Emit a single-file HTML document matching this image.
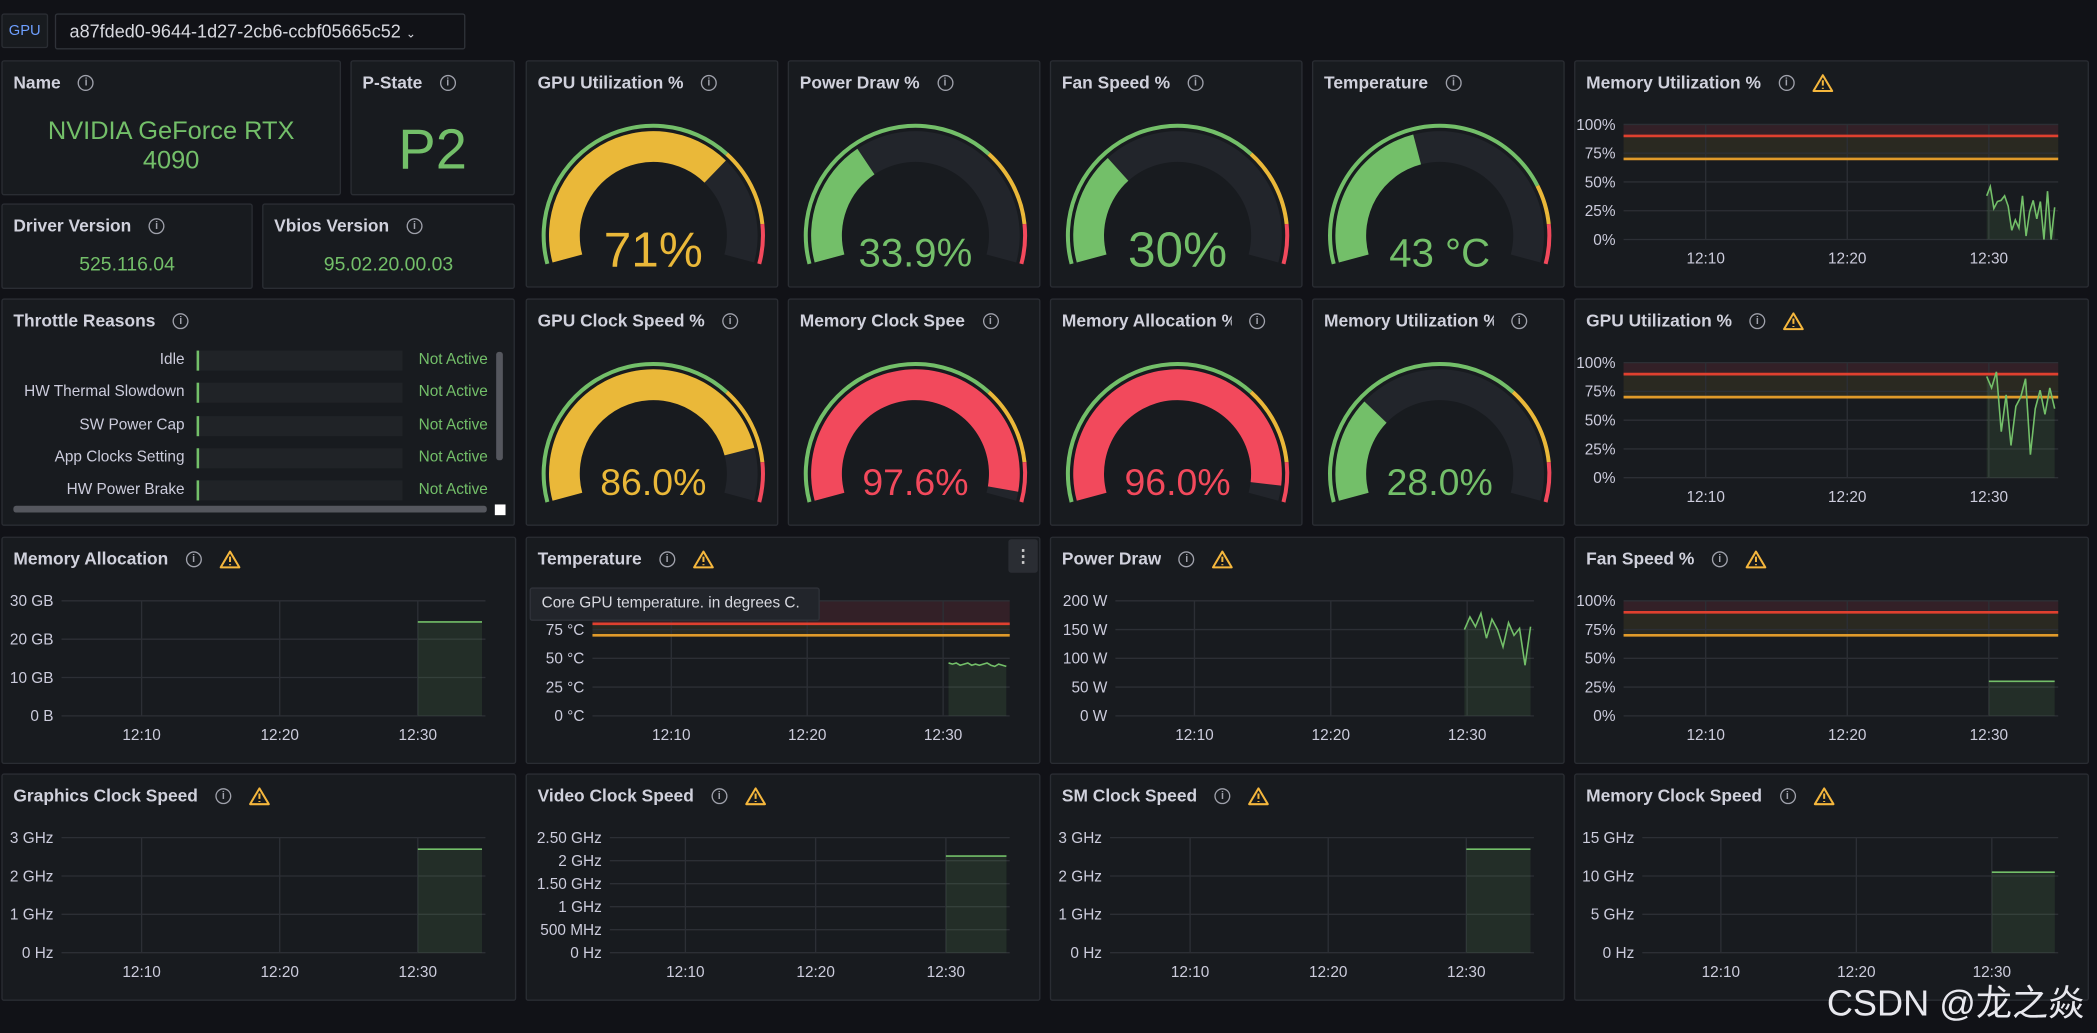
<!DOCTYPE html>
<html><head><meta charset="utf-8">
<style>
*{box-sizing:border-box;margin:0;padding:0}
html,body{width:2097px;height:1033px;background:#111217;overflow:hidden;font-family:"Liberation Sans","Noto Sans CJK SC",sans-serif;color:#ccccdc}
#root{position:absolute;left:0;top:0;width:1568px;height:772px;transform:scale(1.33737,1.33808);transform-origin:0 0}
.panel{position:absolute;background:#181b1f;border:1px solid #2a2d33;border-radius:2px;overflow:hidden}
.title{position:absolute;left:8px;top:8px;font-size:13px;font-weight:bold;color:#d0d1dc;white-space:nowrap;display:flex;align-items:center;gap:13px}
.title span:first-child{flex-shrink:0}
.info{display:inline-block;width:12px;height:12px;border:1.2px solid #9fa1ab;border-radius:50%;font-size:8px;line-height:10px;text-align:center;color:#9fa1ab;font-weight:bold}
.stat{position:absolute;left:0;right:0;text-align:center;color:#73bf69}
svg text{font-family:"Liberation Sans",sans-serif}
.thr-row{position:absolute;left:0;width:380px;height:16px;font-size:11.5px}
</style></head><body>
<div id="root">
  <div style="position:absolute;left:1px;top:10px;width:35px;height:26px;background:#181b1f;border:1px solid #2a2d33;border-radius:2px;color:#6e9fff;font-size:11px;line-height:24px;text-align:center">GPU</div>
  <div style="position:absolute;left:41px;top:10px;width:307px;height:27px;background:#111217;border:1px solid #2f3239;border-radius:2px;font-size:13.5px;line-height:25px;padding-left:10px;color:#d8d9e0">a87fded0-9644-1d27-2cb6-ccbf05665c52 <span style="font-size:9px">&#8964;</span></div>

  <div class="panel" style="left:1px;top:45px;width:254px;height:101px">
    <div class="title">Name <span class="info">i</span></div>
    <div class="stat" style="top:42px;font-size:19px;line-height:22px">NVIDIA GeForce RTX<br>4090</div>
  </div>
  <div class="panel" style="left:262px;top:45px;width:123px;height:101px">
    <div class="title">P-State <span class="info">i</span></div>
    <div class="stat" style="top:42px;font-size:42px;line-height:48px">P2</div>
  </div>
  <div class="panel" style="left:1px;top:152px;width:188px;height:64px">
    <div class="title">Driver Version <span class="info">i</span></div>
    <div class="stat" style="top:37px;font-size:14.5px">525.116.04</div>
  </div>
  <div class="panel" style="left:196px;top:152px;width:189px;height:64px">
    <div class="title">Vbios Version <span class="info">i</span></div>
    <div class="stat" style="top:37px;font-size:14.5px">95.02.20.00.03</div>
  </div>

  <div class="panel" style="left:1px;top:223px;width:384px;height:170px">
    <div class="title">Throttle Reasons <span class="info">i</span></div>
    <div id="thr"></div>
    <div style="position:absolute;left:369px;top:39px;width:5px;height:81px;background:#55575e;border-radius:2px"></div>
    <div style="position:absolute;left:8px;top:154px;width:354px;height:5px;background:#55575e;border-radius:2px"></div>
    <div style="position:absolute;left:368px;top:153px;width:8px;height:8px;background:#fff"></div>
  </div>

  <div id="panels"></div>

  <div style="position:absolute;left:396px;top:439px;width:217px;height:25px;background:#22252b;border:1px solid #2f3239;border-radius:2px;font-size:11.5px;line-height:23px;padding-left:8px;color:#d8d9e0">Core GPU temperature. in degrees C.</div>
  <div style="position:absolute;left:754px;top:403px;width:22px;height:25px;background:#2a2d33;border-radius:2px;color:#ccc;font-size:13px;line-height:25px;text-align:center;font-weight:bold">&#8942;</div>
  <div style="position:absolute;left:1366px;top:728px;font-size:27px;color:#e8e8ee;white-space:nowrap">CSDN @龙之焱</div>
</div>
<script>
// ---------- data ----------
const throttleLabels = ["Idle","HW Thermal Slowdown","SW Power Cap","App Clocks Setting","HW Power Brake"];
const throttleStates = ["Not Active","Not Active","Not Active","Not Active","Not Active"];

const gaugeTitles = ["GPU Utilization %","Power Draw %","Fan Speed %","Temperature","GPU Clock Speed %","Memory Clock Spee","Memory Allocation %","Memory Utilization %"];
const gaugeValues = [71, 33.9, 30, 43, 86.0, 97.6, 96.0, 28.0];
const gaugeTexts = ["71%","33.9%","30%","43 °C","86.0%","97.6%","96.0%","28.0%"];

const timeTickLabels = ["12:10","12:20","12:30"];
const timeTickValues = [10, 20, 30];
const timeStart = 4.2, timeEnd = 34.9;

const memUtilValues = [38,46,27,33,34,38,29,8,17,10,38,3,24,34,18,33,0,42,0,28];
const gpuUtilValues = [88,78,92,40,72,28,62,70,86,20,60,76,55,78,60];
const memAllocValues = [24.5,24.5,24.5,24.5,24.5,24.5];
const tempValues = [46,45,46,44,45,46,44,45,44,45,46,44,43,45,44,43];
const powerValues = [150,172,155,178,135,168,150,120,162,140,152,88,155];
const fanValues = [30,30,30,30,30,30];
const gfxClockValues = [2.7,2.7,2.7,2.7,2.7,2.7];
const videoClockValues = [2.1,2.1,2.1,2.1,2.1,2.1];
const smClockValues = [2.7,2.7,2.7,2.7,2.7,2.7];
const memClockValues = [10.5,10.5,10.5,10.5,10.5,10.5];

const pctTicks = [0,25,50,75,100];
const pctLabels = ["0%","25%","50%","75%","100%"];
const gbTicks = [0,10,20,30];
const gbLabels = ["0 B","10 GB","20 GB","30 GB"];
const tempTicks = [0,25,50,75,100];
const tempLabels = ["0 °C","25 °C","50 °C","75 °C","100 °C"];
const wTicks = [0,50,100,150,200];
const wLabels = ["0 W","50 W","100 W","150 W","200 W"];
const ghz3Ticks = [0,1,2,3];
const ghz3Labels = ["0 Hz","1 GHz","2 GHz","3 GHz"];
const vidTicks = [0,0.5,1,1.5,2,2.5];
const vidLabels = ["0 Hz","500 MHz","1 GHz","1.50 GHz","2 GHz","2.50 GHz"];
const ghz15Ticks = [0,5,10,15];
const ghz15Labels = ["0 Hz","5 GHz","10 GHz","15 GHz"];

// ---------- helpers ----------
const NS = "http://www.w3.org/2000/svg";
const GREEN="#73bf69", YELLOW="#eab839", RED="#f2495c";
const root = document.getElementById('panels');
function svgEl(t, a){const e=document.createElementNS(NS,t);for(const k in a)e.setAttribute(k,a[k]);return e;}
function mkPanel(name,x,y,w,h,title,warn){
  const p=document.createElement('div');
  p.className='panel';
  p.style.cssText=`left:${x}px;top:${y}px;width:${w}px;height:${h}px`;
  
  
  const t=document.createElement('div');
  t.className='title';
  
  
  t.innerHTML=`<span style="max-width:${w-62}px;overflow:hidden;display:inline-block">${title}</span>`;
  const ic=document.createElement('span');
  ic.className='info';ic.textContent='i';
  
  
  t.appendChild(ic);
  if(warn){
    const ws=svgEl('svg',{width:16,height:14,viewBox:'0 0 16 14'});
    
    
    ws.appendChild(svgEl('path',{d:'M8 1.2 L15 13 L1 13 Z',fill:'none',stroke:'#f5b73d','stroke-width':1.5,'stroke-linejoin':'round'}));
    ws.appendChild(svgEl('path',{d:'M8 5 V9 M8 10.6 V11.4',stroke:'#f5b73d','stroke-width':1.5}));
    t.appendChild(ws);
  }
  p.appendChild(t);
  root.appendChild(p);
  const s=svgEl('svg',{width:w,height:h});
  s.style.cssText='position:absolute;left:0;top:0';
  p.appendChild(s);
  return s;
}
function pt(cx,cy,r,a){const rad=a*Math.PI/180;return [cx+r*Math.sin(rad),cy-r*Math.cos(rad)];}
function arc(cx,cy,r1,r2,a0,a1){
  const [x0,y0]=pt(cx,cy,r2,a0),[x1,y1]=pt(cx,cy,r2,a1),[x2,y2]=pt(cx,cy,r1,a1),[x3,y3]=pt(cx,cy,r1,a0);
  const lg=(a1-a0)>180?1:0;
  return `M${x0} ${y0} A${r2} ${r2} 0 ${lg} 1 ${x1} ${y1} L${x2} ${y2} A${r1} ${r1} 0 ${lg} 0 ${x3} ${y3} Z`;
}
const A0=-105, A1=105;
function ang(v,max){return A0+(A1-A0)*Math.min(v,max)/max;}
function valColor(v,t1,t2){return v>=t2?RED:(v>=t1?YELLOW:GREEN);}

// ---------- throttle ----------
const thr=document.getElementById('thr');
throttleLabels.forEach((lab,i)=>{
  const r=document.createElement('div');
  r.className='thr-row';
  r.style.top=(38+i*24.3)+'px';
  
  
  r.innerHTML=`<span style="position:absolute;right:244px;top:1px;white-space:nowrap">${lab}</span>
  <span style="position:absolute;left:145px;top:0;width:1.5px;height:15px;background:${GREEN}"></span>
  <span style="position:absolute;left:147px;top:0;width:152px;height:15px;background:#202327"></span>
  <span style="position:absolute;left:311px;top:1px;color:${GREEN}">${throttleStates[i]}</span>`;
  thr.appendChild(r);
});

// ---------- gauges ----------
const gaugeX=[393,589,785,981];
const gaugeMax=[100,100,100,100,100,100,100,100];
const gaugeT1=[70,70,70,80,70,70,70,70];
const gaugeT2=[90,90,90,90,90,90,90,90];
gaugeValues.forEach((v,i)=>{
  const x=gaugeX[i%4], y=i<4?45:223;
  const s=mkPanel('gauge-panel',x,y,189,170,gaugeTitles[i],false);
  const cx=94.5, cy=130, max=gaugeMax[i];
  const t1=gaugeT1[i], t2=gaugeT2[i];
  const ring=[[0,t1,GREEN],[t1,t2,YELLOW],[t2,max,RED]];
  ring.forEach(([a,b,c])=>{
    const seg=svgEl('path',{d:arc(cx,cy,80.5,83.5,ang(a,max),ang(b,max)),fill:c});
    
    
    s.appendChild(seg);
  });
  const bg=svgEl('path',{d:arc(cx,cy,55,78,A0,A1),fill:'#22252b'});
  
  
  s.appendChild(bg);
  const col=valColor(v,t1,t2);
  const fg=svgEl('path',{d:arc(cx,cy,55,78,A0,ang(v,max)),fill:col});
  
  
  s.appendChild(fg);
  const fs=i<4?(gaugeTexts[i].length<=3?37:30):28;
  const tx=svgEl('text',{x:cx,y:i<4?153:146,'text-anchor':'middle','font-size':fs,fill:col});
  tx.textContent=gaugeTexts[i];
  
  
  s.appendChild(tx);
});

// ---------- time series ----------
function chart(name,x,y,title,ticks,labels,yMax,labelW,values,start,step,thresh){
  const w=385,h=170;
  const s=mkPanel(name,x,y,w,h,title,true);
  const L=labelW, R=w-24, T=47, B=133;
  const xs=t=>L+(t-timeStart)/(timeEnd-timeStart)*(R-L);
  const ys=v=>B-(v/yMax)*(B-T);
  if(thresh){
    const b1=svgEl('rect',{x:L,y:ys(yMax),width:R-L,height:ys(thresh[1])-ys(yMax),fill:'rgba(242,73,92,0.13)'});
    
    
    s.appendChild(b1);
    const b2=svgEl('rect',{x:L,y:ys(thresh[1]),width:R-L,height:ys(thresh[0])-ys(thresh[1]),fill:'rgba(234,184,57,0.09)'});
    
    
    s.appendChild(b2);
  }
  ticks.forEach((tv,i)=>{
    const g=svgEl('line',{x1:L,x2:R,y1:ys(tv),y2:ys(tv),stroke:'#2c2f35','stroke-width':1});
    
    
    s.appendChild(g);
    const t=svgEl('text',{x:L-6,y:ys(tv)+4,'text-anchor':'end','font-size':11.5,fill:'#ccccdc'});
    t.textContent=labels[i];
    
    
    s.appendChild(t);
  });
  timeTickValues.forEach((tv,i)=>{
    const g=svgEl('line',{x1:xs(tv),x2:xs(tv),y1:T,y2:B,stroke:'#2c2f35','stroke-width':1});
    
    
    s.appendChild(g);
    const t=svgEl('text',{x:xs(tv),y:B+18,'text-anchor':'middle','font-size':11.5,fill:'#ccccdc'});
    t.textContent=timeTickLabels[i];
    
    
    s.appendChild(t);
  });
  if(thresh){
    const l1=svgEl('line',{x1:L,x2:R,y1:ys(thresh[1]),y2:ys(thresh[1]),stroke:'#e0402f','stroke-width':2});
    
    
    s.appendChild(l1);
    const l2=svgEl('line',{x1:L,x2:R,y1:ys(thresh[0]),y2:ys(thresh[0]),stroke:'#e09a2a','stroke-width':2});
    
    
    s.appendChild(l2);
  }
  const pts=values.map((v,i)=>[xs(start+i*step),ys(v)]);
  const area=svgEl('path',{d:'M'+pts[0][0]+' '+B+' L'+pts.map(p=>p.join(' ')).join(' L')+' L'+pts[pts.length-1][0]+' '+B+' Z',fill:'rgba(115,191,105,0.12)'});
  
  
  s.appendChild(area);
  const line=svgEl('polyline',{points:pts.map(p=>p.join(',')).join(' '),fill:'none',stroke:GREEN,'stroke-width':1.2});
  
  
  s.appendChild(line);
}
chart('memory-utilization-chart',1177,45,'Memory Utilization %',pctTicks,pctLabels,100,36,memUtilValues,29.85,(34.65-29.85)/(memUtilValues.length-1),[70,90]);
chart('gpu-utilization-chart',1177,223,'GPU Utilization %',pctTicks,pctLabels,100,36,gpuUtilValues,29.85,(34.65-29.85)/(gpuUtilValues.length-1),[70,90]);
chart('memory-allocation-chart',1,401,'Memory Allocation',gbTicks,gbLabels,30,44,memAllocValues,30.0,(34.65-30.0)/(memAllocValues.length-1),null);
chart('temperature-chart',393,401,'Temperature',tempTicks,tempLabels,100,49,tempValues,30.4,(34.65-30.4)/(tempValues.length-1),[70,80]);
chart('power-draw-chart',785,401,'Power Draw',wTicks,wLabels,200,48,powerValues,29.8,(34.65-29.8)/(powerValues.length-1),null);
chart('fan-speed-chart',1177,401,'Fan Speed %',pctTicks,pctLabels,100,36,fanValues,30.0,(34.65-30.0)/(fanValues.length-1),[70,90]);
chart('graphics-clock-chart',1,578,'Graphics Clock Speed',ghz3Ticks,ghz3Labels,3,44,gfxClockValues,30.0,(34.65-30.0)/(gfxClockValues.length-1),null);
chart('video-clock-chart',393,578,'Video Clock Speed',vidTicks,vidLabels,2.5,62,videoClockValues,30.0,(34.65-30.0)/(videoClockValues.length-1),null);
chart('sm-clock-chart',785,578,'SM Clock Speed',ghz3Ticks,ghz3Labels,3,44,smClockValues,30.0,(34.65-30.0)/(smClockValues.length-1),null);
chart('memory-clock-chart',1177,578,'Memory Clock Speed',ghz15Ticks,ghz15Labels,15,50,memClockValues,30.0,(34.65-30.0)/(memClockValues.length-1),null);
</script>
</body></html>
